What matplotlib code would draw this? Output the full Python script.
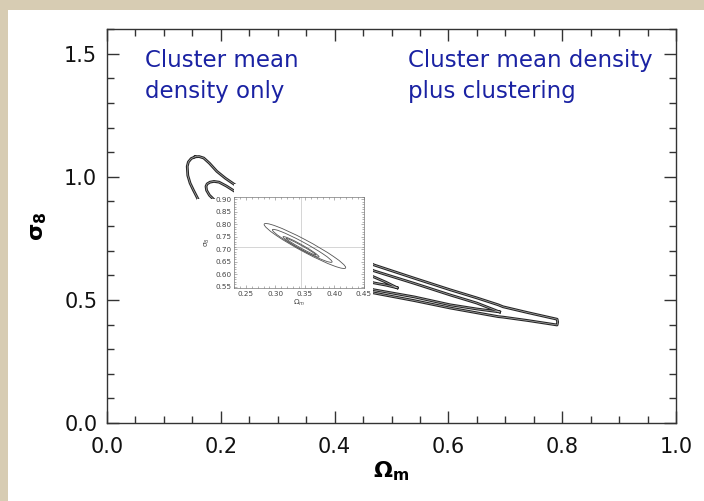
import numpy as np
import matplotlib
matplotlib.use("Agg")
import matplotlib.pyplot as plt
from matplotlib.patches import Rectangle, Circle
from matplotlib.transforms import Affine2D
import matplotlib.patheffects as pe
from matplotlib.ticker import MultipleLocator

# ---- constraints from cluster mean density only (Omega_m, sigma_8) ----
# outer confidence contour (closed loop)
outer_om = [0.155, 0.162, 0.170, 0.180, 0.193, 0.208, 0.225, 0.300, 0.380, 0.469,
            0.540, 0.603, 0.650, 0.6875, 0.696, 0.740, 0.791, 0.792, 0.791,
            0.740, 0.696, 0.6875, 0.603, 0.540, 0.469, 0.380, 0.300, 0.230,
            0.185, 0.168, 0.160, 0.152, 0.146, 0.142, 0.141, 0.143, 0.148]
outer_s8 = [1.081, 1.082, 1.076, 1.055, 1.022, 0.994, 0.967, 0.865, 0.750, 0.642,
            0.588, 0.541, 0.508, 0.480, 0.472, 0.448, 0.4215, 0.410, 0.398,
            0.416, 0.430, 0.432, 0.467, 0.497, 0.528, 0.585, 0.660, 0.750,
            0.820, 0.870, 0.909, 0.945, 0.974, 1.005, 1.042, 1.060, 1.074]

# inner confidence contour (closed loop)
inner_om = [0.690, 0.650, 0.603, 0.540, 0.469, 0.380, 0.300, 0.240, 0.200, 0.180,
            0.175, 0.174, 0.176, 0.181, 0.188, 0.197, 0.210, 0.225, 0.300, 0.380,
            0.469, 0.540, 0.603, 0.650]
inner_s8 = [0.451, 0.463, 0.480, 0.512, 0.541, 0.600, 0.700, 0.800, 0.880, 0.925,
            0.945, 0.961, 0.971, 0.978, 0.981, 0.978, 0.962, 0.940, 0.830, 0.720,
            0.618, 0.567, 0.520, 0.487]

# innermost contour (closed loop)
core_om = [0.510, 0.490, 0.469, 0.400, 0.330, 0.270, 0.250, 0.260, 0.300, 0.380,
           0.469, 0.490]
core_s8 = [0.549, 0.560, 0.569, 0.620, 0.700, 0.790, 0.830, 0.845, 0.790, 0.680,
           0.593, 0.572]

# ---- mean density plus clustering (inset) ----
# each ellipse: upper-left tip, lower-right tip, vertical half-thickness
ell_tip1_om = [0.281, 0.295, 0.313, 0.318]
ell_tip1_s8 = [0.800, 0.778, 0.750, 0.744]
ell_tip2_om = [0.419, 0.396, 0.374, 0.369]
ell_tip2_s8 = [0.627, 0.650, 0.670, 0.677]
ell_half_h = [0.026, 0.017, 0.010, 0.0055]
fid_om, fid_s8 = 0.343, 0.71

x_ticks = [0.0, 0.2, 0.4, 0.6, 0.8, 1.0]
y_ticks = [0.0, 0.5, 1.0, 1.5]
inset_x_ticks = [0.25, 0.30, 0.35, 0.40, 0.45]
inset_y_ticks = [0.55, 0.60, 0.65, 0.70, 0.75, 0.80, 0.85, 0.90]

label_left = "Cluster mean\ndensity only"
label_right = "Cluster mean density\nplus clustering"

W, H = 704, 501
fig = plt.figure(figsize=(W / 100, H / 100), dpi=100, facecolor="#d7ccb3")

def fx(px):
    return px / W

def fy(py):
    return 1 - py / H

# white slide area
fig.patches.append(Rectangle((fx(8), 0), 1 - fx(8), fy(10), transform=fig.transFigure,
                             facecolor="white", edgecolor="none", zorder=-10))

ax = fig.add_axes([fx(107), fy(423), fx(676) - fx(107), fy(29) - fy(423)])
ax.set_facecolor("white")
ax.set_xlim(0.0, 1.0)
ax.set_ylim(0.0, 1.6)
ax.set_xticks(x_ticks)
ax.set_yticks(y_ticks)
ax.xaxis.set_minor_locator(MultipleLocator(0.05))
ax.yaxis.set_minor_locator(MultipleLocator(0.1))
ax.set_xticklabels([f"{v:.1f}" for v in x_ticks])
ax.set_yticklabels([f"{v:.1f}" for v in y_ticks])
ax.tick_params(which="both", direction="in", top=True, right=True, color="#333333",
               labelsize=15, labelcolor="#111111")
ax.tick_params(which="major", length=8.5, width=1.0)
ax.tick_params(which="minor", length=5, width=1.0)
ax.tick_params(axis="x", pad=10)
ax.tick_params(axis="y", pad=7)
for s in ax.spines.values():
    s.set_color("#333333")
    s.set_linewidth(1.0)

ax.set_xlabel("Ω$_{\\mathbf{m}}$", fontsize=16, fontweight="bold", labelpad=2)
ax.set_ylabel("σ$_{\\mathbf{8}}$", fontsize=16, fontweight="bold", labelpad=11)

stroke = [pe.Stroke(linewidth=2.0, foreground="#262626"), pe.Normal()]
for om, s8 in [(outer_om, outer_s8), (inner_om, inner_s8), (core_om, core_s8)]:
    ax.plot(list(om) + [om[0]], list(s8) + [s8[0]], color="#b5b5b5", lw=0.45,
            solid_joinstyle="round", path_effects=stroke)

txt_col = "#1a22a3"
ax.text(0.067, 1.518, label_left, color=txt_col, fontsize=16.5, va="top", ha="left",
        linespacing=1.45)
ax.text(0.529, 1.518, label_right, color=txt_col, fontsize=16.5, va="top", ha="left",
        linespacing=1.45)

# white backing of the inset figure
for (x0, y0, x1, y1) in [(234, 184, 373, 306), (197, 199, 373, 306)]:
    fig.patches.append(Rectangle((fx(x0), fy(y1)), fx(x1) - fx(x0), fy(y0) - fy(y1),
                                 transform=fig.transFigure, facecolor="white",
                                 edgecolor="none", zorder=1))

axin = fig.add_axes([fx(234), fy(288), fx(364) - fx(234), fy(197) - fy(288)], zorder=2)
axin.set_xlim(0.23, 0.45)
axin.set_ylim(0.545, 0.91)
axin.set_xticks(inset_x_ticks)
axin.set_yticks(inset_y_ticks)
axin.set_xticklabels([f"{v:.2f}" for v in inset_x_ticks])
axin.set_yticklabels([f"{v:.2f}" for v in inset_y_ticks])
axin.xaxis.set_minor_locator(MultipleLocator(0.01))
axin.yaxis.set_minor_locator(MultipleLocator(0.01))
axin.tick_params(which="both", direction="in", top=True, right=True, color="#777777",
                 labelsize=5.2, labelcolor="#444444", width=0.4, pad=2)
axin.tick_params(which="major", length=2.5)
axin.tick_params(which="minor", length=1.3)
for s in axin.spines.values():
    s.set_color("#777777")
    s.set_linewidth(0.5)
axin.set_xlabel("Ω$_m$", fontsize=5.2, color="#444444", labelpad=1)
axin.set_ylabel("σ$_8$", fontsize=5.2, color="#444444", labelpad=2)
axin.axvline(fid_om, color="#cfcfcf", lw=0.6, zorder=0)
axin.axhline(fid_s8, color="#cfcfcf", lw=0.6, zorder=0)

for a_om, a_s8, b_om, b_s8, hh in zip(ell_tip1_om, ell_tip1_s8, ell_tip2_om, ell_tip2_s8,
                                      ell_half_h):
    cx, cy = (a_om + b_om) / 2, (a_s8 + b_s8) / 2
    ux, uy = b_om - cx, b_s8 - cy
    aff = Affine2D(np.array([[ux, 0.0, cx], [uy, hh, cy], [0.0, 0.0, 1.0]]))
    axin.add_patch(Circle((0, 0), 1.0, transform=aff + axin.transData, fill=False,
                          edgecolor="#555555", lw=0.6))

fig.savefig("out.png", dpi=100, facecolor=fig.get_facecolor())
